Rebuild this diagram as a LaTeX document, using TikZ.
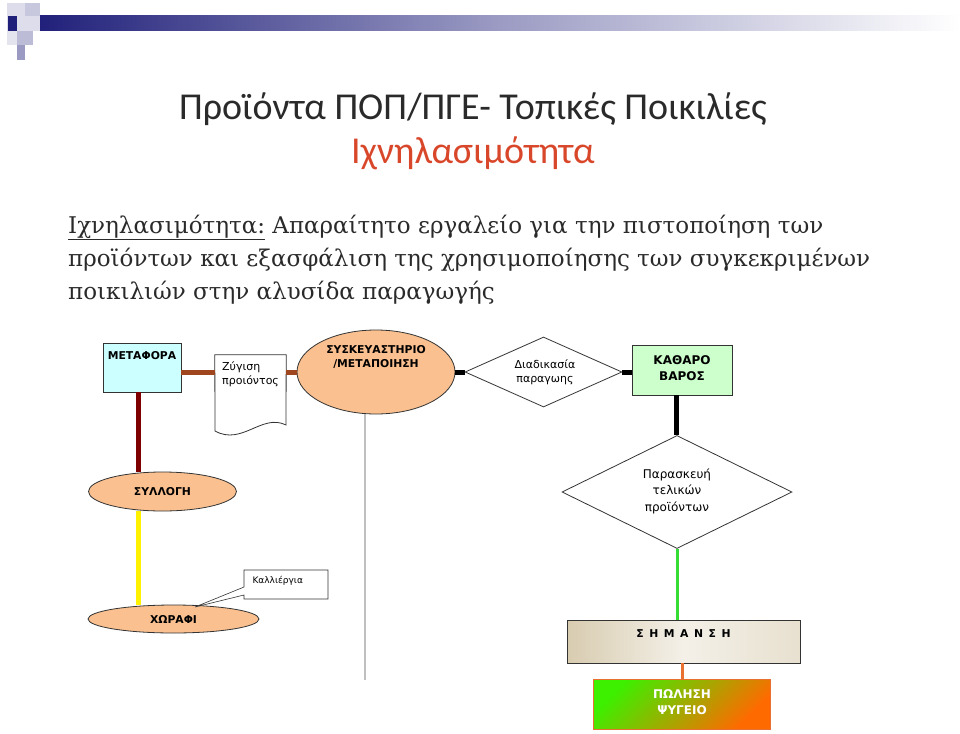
\documentclass[tikz,border=0pt]{standalone}
\usepackage{fontspec}
\setmainfont{DejaVu Serif}
\newfontfamily\titlefont{Carlito}
\newfontfamily\dsans{DejaVu Sans}
\usetikzlibrary{shapes.geometric,shapes.callouts}
\definecolor{navy}{HTML}{1F1F7A}
\definecolor{txtgray}{HTML}{2A2A2A}
\definecolor{titlered}{HTML}{D9472B}
\definecolor{peach}{HTML}{FAC090}
\definecolor{lcyan}{HTML}{CCFFFF}
\definecolor{lgreen}{HTML}{CCFFCC}
\definecolor{sienna2}{HTML}{A0461E}
\definecolor{darkred2}{HTML}{7F0000}
\definecolor{beige1}{HTML}{D8CCB0}
\definecolor{beige2}{HTML}{F4F0E8}
\definecolor{green2}{HTML}{33DD33}
\definecolor{orange2}{HTML}{E87030}
\definecolor{shgreen}{HTML}{3CF000}
\definecolor{shorange}{HTML}{FF6A00}
\tikzset{
  dg/.style={font=\dsans\fontsize{11}{14}\selectfont, text=black},
  dgb/.style={font=\dsans\bfseries\fontsize{10.8}{14}\selectfont, text=black},
  shapeline/.style={draw=black!80, line width=0.8pt},
  boxnode/.style={shapeline, rectangle, inner sep=0pt},
  ellnode/.style={shapeline, ellipse, fill=peach, inner sep=0pt},
  dianode/.style={shapeline, diamond, inner sep=0pt, fill=white},
  thickconn/.style={line width=5pt},
  bodyline/.style={anchor=base west, inner sep=0pt, text=txtgray, font=\fontsize{23}{28}\selectfont},
}
\begin{document}
\begin{tikzpicture}[x=1pt,y=-1pt]
\useasboundingbox (0,0) rectangle (960,733);
% header decoration
\fill[left color=navy, right color=white, middle color=navy!45] (33,16) rectangle (960,31);
\fill[navy!15] (7,3) rectangle (40,31);
\fill[navy!25] (25,3) rectangle (40,16);
\fill[navy] (8,16) rectangle (17,31);
\fill[navy!30] (17,31) rectangle (33,45);
\fill[navy!45] (17,45) rectangle (25,60);
\fill[navy!12] (7,31) rectangle (17,45);

% titles
\node[anchor=base, inner sep=0pt, text=txtgray, font=\titlefont\fontsize{38}{42}\selectfont] (t1) at (473,119) {Προϊόντα ΠΟΠ/ΠΓΕ- Τοπικές Ποικιλίες};
\node[anchor=base, inner sep=0pt, text=titlered, font=\titlefont\fontsize{38}{42}\selectfont] (t2) at (473,163) {Ιχνηλασιμότητα};

% body text
\node[bodyline] (b1) at (68,233) {\underline{Ιχνηλασιμότητα:} Απαραίτητο εργαλείο για την πιστοποίηση των};
\node[bodyline] (b2) at (68,266) {προϊόντων και εξασφάλιση της χρησιμοποίησης των συγκεκριμένων};
\node[bodyline] (b3) at (68,299) {ποικιλιών στην αλυσίδα παραγωγής};

% nodes
\node[boxnode, fill=lcyan, minimum width=78pt, minimum height=49pt] (metafora) at (142,367.5) {};
\node[dgb, anchor=base] (metaforat) at (142,359) {ΜΕΤΑΦΟΡΑ};

\node[inner sep=0pt, minimum width=71pt, minimum height=75pt] (zygisi) at (250.5,392.5) {};
\draw[shapeline, fill=white] (zygisi.north west) -- (zygisi.north east) -- (286,425)
   .. controls (262,413) and (242,446) .. (215,431) -- cycle;
\node[dg, anchor=north west, align=left, inner sep=0pt] (zygisit) at (222,361) {Ζύγιση\\προιόντος};

\node[ellnode, minimum width=158pt, minimum height=84pt] (syskev) at (376,372) {};
\node[dgb, align=center, anchor=north, inner sep=0pt] (syskevt) at (376,345) {ΣΥΣΚΕΥΑΣΤΗΡΙΟ\\/ΜΕΤΑΠΟΙΗΣΗ};

\node[dianode, minimum width=157pt, minimum height=70pt] (diad) at (543.5,372) {};
\node[dg, align=center, anchor=north, inner sep=0pt] (diadt) at (545,359) {Διαδικασία\\παραγωης};

\node[boxnode, fill=lgreen, minimum width=100pt, minimum height=50pt] (kath) at (682,370) {};
\node[dgb, align=center, font=\dsans\bfseries\fontsize{12}{16}\selectfont] (katht) at (682,368) {ΚΑΘΑΡΟ\\ΒΑΡΟΣ};

\node[dianode, minimum width=230pt, minimum height=113pt] (parask) at (677,492) {};
\node[dg, align=center, font=\dsans\fontsize{12}{16.5}\selectfont] (paraskt) at (677,491) {Παρασκευή\\τελικών\\προϊόντων};

\node[boxnode, left color=beige1, right color=beige1!60, middle color=beige2, minimum width=233pt, minimum height=43pt] (simansi) at (683.5,641.5) {};
\node[dgb, anchor=base] (simansit) at (683.5,637) {Σ\, Η\, Μ\, Α\, Ν\, Σ\, Η};

\node[draw=orange2, line width=0.8pt, rectangle, inner sep=0pt, left color=shgreen, right color=shorange, shading angle=45, minimum width=177pt, minimum height=50pt] (polisi) at (681.5,704) {};
\node[dgb, text=white, align=center, font=\dsans\bfseries\fontsize{12}{16}\selectfont] (polisit) at (682,702) {ΠΩΛΗΣΗ\\ΨΥΓΕΙΟ};

\node[ellnode, minimum width=148pt, minimum height=39pt] (syllogi) at (162.5,491.5) {};
\node[dgb] (syllogit) at (162.5,491.5) {ΣΥΛΛΟΓΗ};

\node[ellnode, minimum width=171pt, minimum height=28pt] (xorafi) at (173.5,619) {};
\node[dgb] (xorafit) at (173.5,619) {ΧΩΡΑΦΙ};

\coordinate (calltip) at (195,607);
\node[rectangle callout, shapeline, line width=0.6pt, fill=white, minimum width=84pt, minimum height=29pt, inner sep=0pt,
      callout absolute pointer={(calltip)}, callout pointer width=8pt] (kallierg) at (286,584.5) {};
\node[dg, anchor=west, font=\dsans\fontsize{9}{12}\selectfont] (kalliergt) at (249,581) {Καλλιέργια};

% connectors
\coordinate (grayend) at (365,680);
\draw[black!25, line width=1.3pt] (365,414) -- (grayend);
\draw[sienna2, thickconn] (metafora.east |- 0,372) -- (zygisi.west |- 0,372);
\draw[sienna2, thickconn] (zygisi.east |- 0,372) -- (syskev.west);
\draw[black, thickconn] (syskev.east) -- (diad.west);
\draw[black, thickconn] (diad.east) -- (kath.west |- diad.east);
\draw[black, thickconn] (kath.south -| 676,0) -- (parask.north -| 676,0);
\draw[darkred2, thickconn] (metafora.south -| 138,0) -- (syllogi.north -| 138,0);
\draw[yellow, thickconn] (syllogi.south -| 138,0) -- (xorafi.north -| 138,0);
\draw[green2, line width=3pt] (parask.south) -- (simansi.north -| parask.south);
\draw[orange2, line width=3pt] (simansi.south -| 682,0) -- (polisi.north -| 682,0);
\end{tikzpicture}
\end{document}
